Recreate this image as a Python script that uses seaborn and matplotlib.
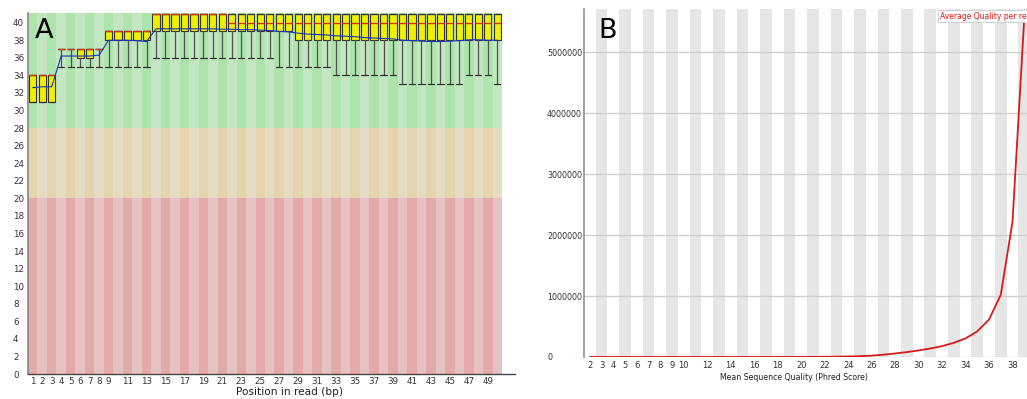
import matplotlib
matplotlib.use("Agg")
import matplotlib.pyplot as plt
import seaborn as sns
import numpy as np

# ---------------- data: panel A (per-base quality) ----------------
positions = list(range(1, 51))
whisk_lo = [31, 31, 31, 35, 35, 35, 35, 35, 35, 35, 35, 35, 35] + [36] * 13 + [35] * 6 + [34] * 7 + [33] * 7 + [34] * 3 + [33]
q1 = [31, 31, 31, 37, 37, 36, 36, 37, 38, 38, 38, 38, 38] + [39] * 15 + [38] * 22
medians = [34, 34, 34, 37, 37, 37, 37, 37, 39, 39, 39, 39, 39] + [41] * 8 + [40] * 29
q3 = [34, 34, 34, 37, 37, 37, 37, 37, 39, 39, 39, 39, 39] + [41] * 37
whisk_hi = list(q3)
means = [32.6, 32.7, 32.7, 36.2, 36.2, 36.2, 36.2, 36.3, 38.0, 38.0,
         38.0, 37.95, 37.85, 39.3, 39.3, 39.3, 39.3, 39.3, 39.3, 39.3,
         39.25, 39.25, 39.2, 39.2, 39.15, 39.1, 39.0, 38.95, 38.8, 38.7,
         38.65, 38.6, 38.5, 38.45, 38.4, 38.3, 38.25, 38.2, 38.15, 38.0,
         37.95, 37.9, 37.85, 37.85, 37.9, 37.95, 38.05, 38.05, 38.0, 38.0]
xtick_labels_A = [1, 2, 3, 4, 5, 6, 7, 8, 9] + list(range(11, 50, 2))
ytick_labels_A = list(range(0, 41, 2))

# ---------------- data: panel B (per-sequence quality) ----------------
quality = list(range(2, 40))
counts = [0, 0, 0, 0, 0, 0, 0, 0, 0, 0,
          0, 0, 0, 0, 0, 0, 500, 800, 1200, 2000,
          3500, 5500, 9000, 14000, 22000, 38000, 58000, 80000, 108000, 140000,
          178000, 232000, 305000, 420000, 615000, 1020000, 2220000, 5550000]
xtick_labels_B = [2, 3, 4, 5, 6, 7, 8, 9, 10] + list(range(12, 39, 2))
ytick_labels_B = [0, 1000000, 2000000, 3000000, 4000000, 5000000]

sns.set_theme(style="white")
plt.rcParams['font.family'] = ['DejaVu Sans']

W, H = 1027, 399
fig = plt.figure(figsize=(W / 100, H / 100), dpi=100)

# ================= Panel A =================
axA = fig.add_axes([28 / W, 1 - 374 / H, 487 / W, (374 - 13) / H])
ytop = 41.1
good, good_d = (195/255, 230/255, 195/255), (172/255, 228/255, 172/255)
bad, bad_d = (230/255, 220/255, 195/255), (230/255, 213/255, 172/255)
ugly, ugly_d = (230/255, 195/255, 195/255), (228/255, 170/255, 170/255)
for p in positions:
    dark = (p % 2 == 1)
    axA.bar(p, 20, bottom=0, width=1, color=ugly_d if dark else ugly, lw=0, zorder=0)
    axA.bar(p, 8, bottom=20, width=1, color=bad_d if dark else bad, lw=0, zorder=0)
    axA.bar(p, ytop - 28, bottom=28, width=1, color=good_d if dark else good, lw=0, zorder=0)

stats = [dict(med=m, q1=a, q3=b, whislo=lo, whishi=hi, fliers=[])
         for m, a, b, lo, hi in zip(medians, q1, q3, whisk_lo, whisk_hi)]
axA.bxp(stats, positions=positions, widths=0.76, showfliers=False, patch_artist=True,
        manage_ticks=False, capwidths=0.66,
        boxprops=dict(facecolor=(240/255, 240/255, 0), edgecolor='#333333', lw=0.8),
        medianprops=dict(color=(0.85, 0.2, 0.05), lw=1.0),
        whiskerprops=dict(color='#505050', lw=0.9),
        capprops=dict(color='#333333', lw=0.9))
sns.lineplot(x=positions, y=means, ax=axA, color=(0.1, 0.2, 0.75), lw=0.8, zorder=6)

axA.set_xlim(0.5, 51.87)
axA.set_ylim(0, ytop)
axA.set_xticks(xtick_labels_A)
axA.set_xticklabels([str(v) for v in xtick_labels_A], fontsize=6.3, color='#333333')
axA.set_yticks(ytick_labels_A)
axA.set_yticklabels([str(v) for v in ytick_labels_A], fontsize=6.3, color='#333333')
for lbl in axA.get_yticklabels():
    lbl.set_horizontalalignment('left')
axA.tick_params(axis='y', length=0, pad=10.8)
axA.tick_params(axis='x', length=0, pad=2.5)
for s in ['top', 'right']:
    axA.spines[s].set_visible(False)
axA.spines['left'].set_color('#888888')
axA.spines['left'].set_linewidth(1.2)
axA.spines['bottom'].set_color('#444444')
axA.spines['bottom'].set_linewidth(1.0)
axA.set_xlabel('Position in read (bp)', fontsize=7.6, color='#222222')
axA.xaxis.set_label_coords(0.536, -0.05)
axA.xaxis.label.set_verticalalignment('center')
axA.set_ylabel('')
fig.text(35 / W, 1 - 31 / H, 'A', fontsize=19.5, va='center', ha='left', color='black')

# ================= Panel B =================
axB = fig.add_axes([584 / W, 1 - 357 / H, (1036 - 584) / W, (357 - 9) / H])
for q in quality:
    if q % 2 == 1:
        axB.axvspan(q - 0.5, q + 0.5, color=(230/255, 230/255, 230/255), lw=0, zorder=0)
axB.set_axisbelow(True)
axB.yaxis.grid(True, color='#CFCFCF', lw=1.0)
axB.xaxis.grid(False)
sns.lineplot(x=quality, y=counts, ax=axB, color=(0.85, 0.1, 0.1), lw=1.3, zorder=4)
axB.set_xlim(1.5, 40)
axB.set_ylim(0, 5.705e6)
axB.set_xticks(xtick_labels_B)
axB.set_xticklabels([str(v) for v in xtick_labels_B], fontsize=6, color='#333333')
axB.set_yticks(ytick_labels_B)
axB.set_yticklabels([str(v) for v in ytick_labels_B], fontsize=5.8, color='#333333')
for lbl in axB.get_yticklabels():
    lbl.set_horizontalalignment('left')
axB.tick_params(axis='y', length=0, pad=26.6)
axB.tick_params(axis='x', length=0, pad=3)
for s in ['top', 'right', 'bottom']:
    axB.spines[s].set_visible(False)
axB.spines['left'].set_color('#999999')
axB.spines['left'].set_linewidth(1.3)
axB.set_xlabel('Mean Sequence Quality (Phred Score)', fontsize=5.6, color='#222222')
axB.xaxis.set_label_coords(0.4635, -0.06)
axB.xaxis.label.set_verticalalignment('center')
axB.set_ylabel('')
axB.text(31.8, 5.59e6, 'Average Quality per read', color=(0.85, 0.1, 0.1), fontsize=5.5,
         va='center', ha='left', zorder=7,
         bbox=dict(facecolor='white', edgecolor='#C8C8C8', lw=0.6, pad=1.2))
fig.text(598 / W, 1 - 31 / H, 'B', fontsize=19.5, va='center', ha='left', color='black')

fig.savefig('out.png', dpi=100)
